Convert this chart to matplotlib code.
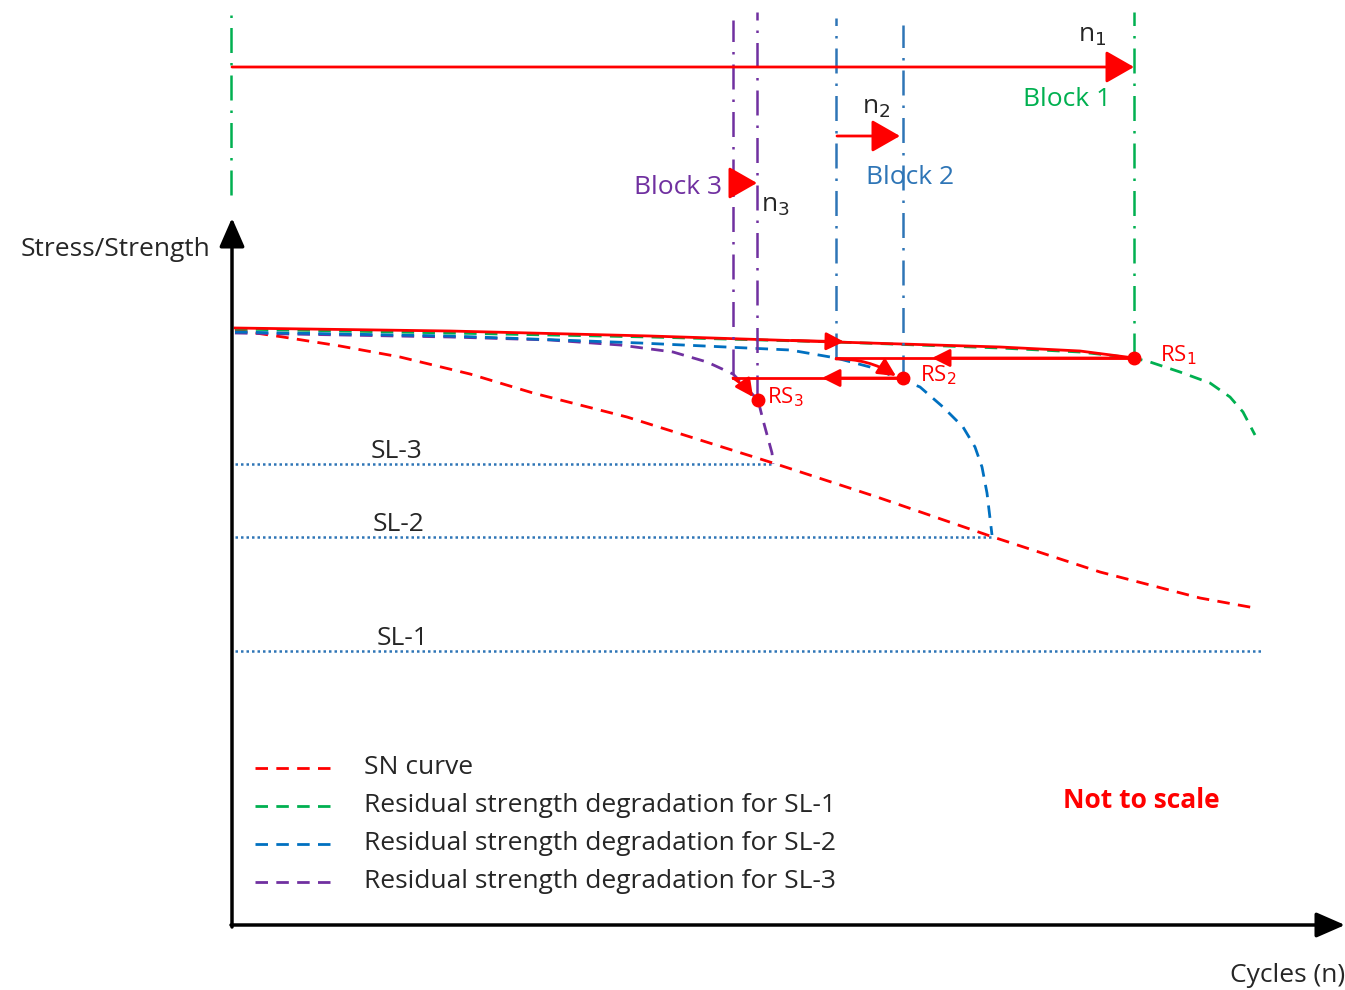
import matplotlib.pyplot as plt

plt.rcParams['font.family'] = ['Open Sans', 'DejaVu Sans']

RED = '#FF0000'
GREEN = '#00B050'
BLUE = '#0070C0'
LBLUE = '#2E75B6'
PURPLE = '#7030A0'
TXT = '#262626'

# schematic data (arbitrary units, origin at axis corner)
sn_x = [3, 51, 108, 168, 238, 301, 395, 468, 541, 645, 761, 868, 968, 1023]
sn_y = [595, 588, 579, 568, 551, 532, 508, 485, 462, 428, 388, 353, 327, 317]

rs1_x = [3, 218, 418, 604, 768, 848, 902, 918, 948, 978, 998, 1011, 1023]
rs1_y = [596, 592, 588, 583, 577, 573, 567, 563, 553, 542, 528, 513, 490]

rs2_x = [3, 218, 408, 558, 604, 638, 671, 688, 711, 731, 743, 750, 755, 760]
rs2_y = [593, 589, 582, 575, 567, 558, 545, 538, 518, 498, 478, 458, 432, 390]

rs3_x = [3, 218, 318, 388, 441, 475, 501, 526, 531, 540, 541]
rs3_y = [592, 588, 585, 580, 573, 563, 551, 525, 505, 472, 461]

path_x = [3, 218, 418, 604, 768, 848, 902]
path_y = [597, 594, 589, 583, 578, 574, 567]

sl_names = ['SL-1', 'SL-2', 'SL-3']
sl_levels = [274, 388, 461]
sl_ends = [1031, 761, 541]
sl_label_x = [171, 167, 165]

rs_points_x = [902, 671, 526]
rs_points_y = [567, 547, 525]
rs_names = ['RS$_1$', 'RS$_2$', 'RS$_3$']
rs_label_dx = [26, 17, 9]

block_lines = [(-1, 730, 917, GREEN), (902, 567, 913, GREEN),
               (501, 551, 905, PURPLE), (525, 525, 913, PURPLE),
               (604, 567, 907, LBLUE), (671, 545, 900, LBLUE)]

legend_labels = ['SN curve', 'Residual strength degradation for SL-1',
                 'Residual strength degradation for SL-2',
                 'Residual strength degradation for SL-3']
legend_colors = [RED, GREEN, BLUE, PURPLE]
legend_y = [157, 119, 81, 43]

fig = plt.figure(figsize=(13.45, 9.9), dpi=100)
ax = fig.add_axes([0, 0, 1, 1])
ax.set_xlim(-232, 1113)
ax.set_ylim(-65, 925)
ax.axis('off')

dash = (0, (4.5, 3))
dashdot = (0, (10, 4, 1, 4))
FS = 19

# SL levels
for name, lev, end, lx in zip(sl_names, sl_levels, sl_ends, sl_label_x):
    ax.plot([3, end], [lev, lev], color=LBLUE, lw=1.8, linestyle=(0, (1, 1.2)))
    ax.text(lx, lev, name, fontsize=FS, color=TXT, ha='center', va='bottom')

# curves
ax.plot(sn_x, sn_y, color=RED, lw=2, linestyle=dash)
ax.plot(rs3_x, rs3_y, color=PURPLE, lw=2, linestyle=dash)
ax.plot(rs2_x, rs2_y, color=BLUE, lw=2, linestyle=dash)
ax.plot(rs1_x, rs1_y, color=GREEN, lw=2, linestyle=dash)
ax.plot(path_x, path_y, color=RED, lw=2)

# block boundaries
for x, y0, y1, c in block_lines:
    ax.plot([x, x], [y0, y1], color=c, lw=1.8, linestyle=dashdot)

# strength path arrows
small = dict(arrowstyle='-|>,head_length=0.6,head_width=0.3', color=RED, lw=2,
             shrinkA=0, shrinkB=0, mutation_scale=18)
ax.plot([902, 604], [567, 567], color=RED, lw=2)
ax.annotate('', xy=(700, 567), xytext=(902, 567), arrowprops=small)
ax.annotate('', xy=(612, 583.3), xytext=(560, 584.5), arrowprops=small)
ax.annotate('', xy=(664, 549), xytext=(604, 566),
            arrowprops=dict(small, connectionstyle='arc3,rad=-0.15'))
ax.plot([671, 501], [547, 547], color=RED, lw=2)
ax.annotate('', xy=(590, 547), xytext=(671, 547), arrowprops=small)
ax.annotate('', xy=(521, 528), xytext=(501, 547),
            arrowprops=dict(small, connectionstyle='arc3,rad=-0.1'))
ax.plot(rs_points_x, rs_points_y, 'o', color=RED, ms=9)
for x, y, name, dx in zip(rs_points_x, rs_points_y, rs_names, rs_label_dx):
    ax.text(x + dx, y + 3, name, fontsize=16, color=RED, ha='left', va='center')

# block arrows
big = dict(arrowstyle='-|>,head_length=0.7,head_width=0.4', color=RED, lw=2,
           shrinkA=0, shrinkB=0, mutation_scale=25)
ax.annotate('', xy=(902, 858), xytext=(0, 858), arrowprops=big)
ax.annotate('', xy=(668, 789), xytext=(605, 789), arrowprops=big)
ax.annotate('', xy=(525, 742), xytext=(501, 742), arrowprops=big)

ax.text(860, 890, 'n$_1$', fontsize=FS, color=TXT, ha='center', va='center')
ax.text(835, 825, 'Block 1', fontsize=FS, color=GREEN, ha='center', va='center')
ax.text(644, 817, 'n$_2$', fontsize=FS, color=TXT, ha='center', va='center')
ax.text(678, 748, 'Block 2', fontsize=FS, color=LBLUE, ha='center', va='center')
ax.text(490, 737, 'Block 3', fontsize=FS, color=PURPLE, ha='right', va='center')
ax.text(543, 720, 'n$_3$', fontsize=FS, color=TXT, ha='center', va='center')

# axes arrows
head = dict(arrowstyle='-|>,head_length=0.8,head_width=0.35', color='black',
            lw=2.5, shrinkA=0, shrinkB=0, mutation_scale=22)
ax.annotate('', xy=(0, 707), xytext=(0, -2), arrowprops=head)
ax.annotate('', xy=(1113, 0), xytext=(-1, 0), arrowprops=head)
ax.text(-22, 675, 'Stress/Strength', fontsize=FS, color=TXT, ha='right', va='center')
ax.text(998, -50, 'Cycles (n)', fontsize=FS, color=TXT, ha='left', va='center')

# legend
for lab, c, y in zip(legend_labels, legend_colors, legend_y):
    ax.plot([23, 98], [y, y], color=c, lw=2, linestyle=dash)
    ax.text(132, y, lab, fontsize=FS, color=TXT, ha='left', va='center')

ax.text(909, 125, 'Not to scale', fontsize=FS, color=RED, fontweight='bold',
        ha='center', va='center')

fig.savefig('out.png', dpi=100)
